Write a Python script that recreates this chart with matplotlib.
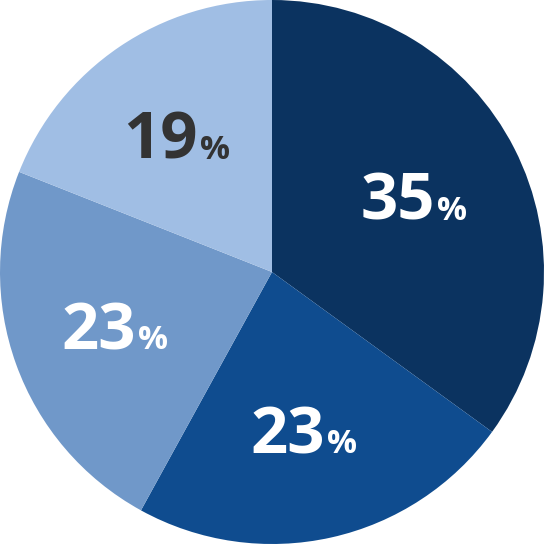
import matplotlib
matplotlib.use("Agg")
import matplotlib.pyplot as plt
import numpy as np

values = [35, 23, 23, 19]
colors = ["#0b3360", "#0f4c8f", "#7098c9", "#a0bee4"]
label_colors = ["white", "white", "white", "#333333"]

fig = plt.figure(figsize=(5.44, 5.44), dpi=100)
ax = fig.add_axes([0, 0, 1, 1])
wedges, _ = ax.pie(values, colors=colors, startangle=90, counterclock=False,
                   radius=1.0, wedgeprops=dict(linewidth=0))
ax.set_xlim(-1, 1)
ax.set_ylim(-1, 1)
ax.set_aspect("equal")
ax.axis("off")

for v, c, w in zip(values, label_colors, wedges):
    mid = np.deg2rad((w.theta1 + w.theta2) / 2)
    r = 0.6
    x, y = r * np.cos(mid), r * np.sin(mid)
    ax_x = x + 0.065
    ax_y = y - 0.08
    ax.text(ax_x, ax_y, f"{v}", ha="right", va="baseline", color=c,
            fontsize=47, fontweight="bold", family="Open Sans")
    ax.text(ax_x + 0.006, ax_y, "%", ha="left", va="baseline", color=c,
            fontsize=24, fontweight="bold", family="Open Sans")

fig.savefig("out.png", dpi=100)
